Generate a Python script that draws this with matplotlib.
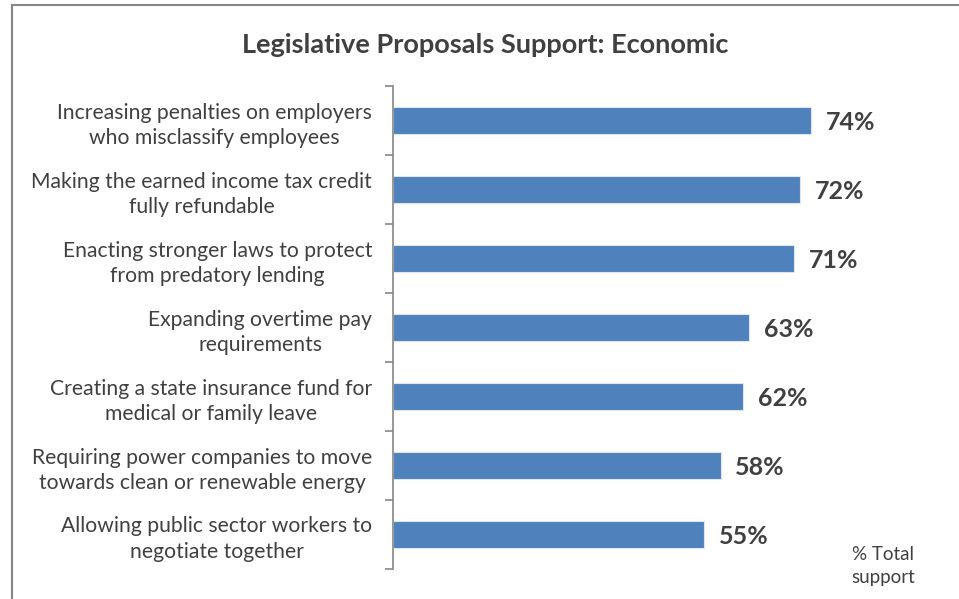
import matplotlib.pyplot as plt
from matplotlib.patches import Rectangle

proposals = [
    "Increasing penalties on employers\nwho misclassify employees",
    "Making the earned income tax credit\nfully refundable",
    "Enacting stronger laws to protect\nfrom predatory lending",
    "Expanding overtime pay\nrequirements",
    "Creating a state insurance fund for\nmedical or family leave",
    "Requiring power companies to move\ntowards clean or renewable energy",
    "Allowing public sector workers to\nnegotiate together",
]
support = [74, 72, 71, 63, 62, 58, 55]

plt.rcParams["font.family"] = ["Lato", "DejaVu Sans"]
TEXT = "#404040"

fig = plt.figure(figsize=(9.59, 5.99), dpi=100)
ax = fig.add_axes([393 / 959, 1 - 569 / 599, 565 / 959, (569 - 86) / 599])

pos = list(range(len(proposals)))
ax.barh(pos, support, height=0.39, color="#4F81BD", edgecolor="#DCE6F2", linewidth=0.8)
for y, v in zip(pos, support):
    ax.text(v + 2.6, y + 0.03, f"{v}%", va="center", ha="left", fontsize=18,
            fontweight="bold", color=TEXT)

ax.set_xlim(0, 100)
ax.set_ylim(len(proposals) - 0.5, -0.5)
ax.set_xticks([])
ax.set_yticks([p - 0.5 for p in pos] + [len(pos) - 0.5], minor=False)
ax.set_yticklabels([])
ax.set_yticks(pos, minor=True)
ax.set_yticklabels(proposals, minor=True, fontsize=15.2, color=TEXT,
                   multialignment="center", linespacing=1.32)
ax.tick_params(axis="y", which="major", length=6, width=1.2, color="#868686")
ax.tick_params(axis="y", which="minor", length=0, pad=15)
for side in ("top", "right", "bottom"):
    ax.spines[side].set_visible(False)
ax.spines["left"].set_color("#868686")
ax.spines["left"].set_linewidth(1.2)

fig.text(485 / 959, 1 - 45 / 599, "Legislative Proposals Support: Economic",
         ha="center", va="center", fontsize=19.5, fontweight="bold", color=TEXT)
fig.text(883 / 959, 1 - 566 / 599, "% Total\nsupport", ha="center", va="center",
         fontsize=13.5, color=TEXT, linespacing=1.45)

# outer chart frame, running off the right and bottom edges
fig.patches.append(Rectangle((12 / 959, -0.2), 2, 1.2 - 5 / 599, transform=fig.transFigure,
                             fill=False, edgecolor="#868686", linewidth=1.5))

fig.savefig("out.png", dpi=100)
